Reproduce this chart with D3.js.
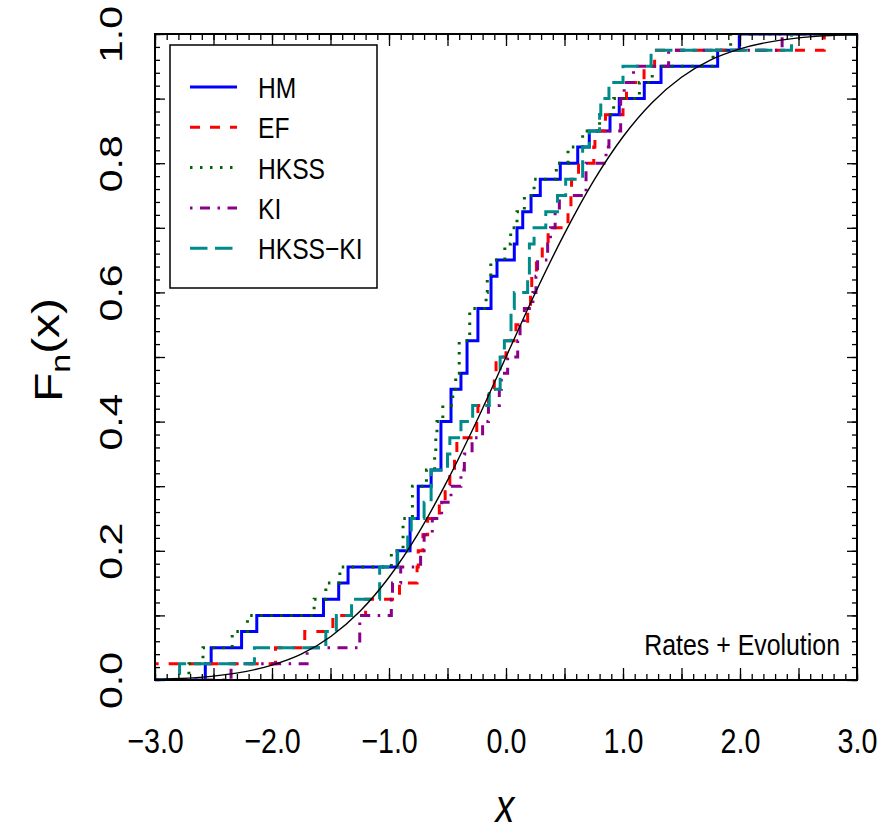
<!DOCTYPE html>
<html>
<head>
<meta charset="utf-8">
<script src="https://cdn.jsdelivr.net/npm/d3@7"></script>
<style>
  body { margin: 0; background: #fff; }
  svg { font-family: "Liberation Sans", Arial, Helvetica, sans-serif; }
</style>
</head>
<body>
<div id="chart"></div>
<script>
var hm = [-2.57, -2.52, -2.26, -2.13, -1.56, -1.43, -1.35, -0.93, -0.82, -0.82,
          -0.75, -0.75, -0.64, -0.556, -0.556, -0.556, -0.47, -0.47, -0.385, -0.333,
          -0.333, -0.24, -0.24, -0.128, -0.128, -0.077, 0.071, 0.094, 0.143, 0.214,
          0.293, 0.464, 0.613, 0.712, 0.889, 0.968, 1.182, 1.325, 1.809, 1.994]
var ef = [-3.1, -1.97, -1.72, -1.48, -1.20, -0.91, -0.76, -0.75, -0.71, -0.67,
          -0.57, -0.52, -0.48, -0.44, -0.42, -0.25, -0.24, -0.15, -0.10, -0.085,
          0.0, 0.085, 0.185, 0.21, 0.22, 0.26, 0.31, 0.36, 0.53, 0.555,
          0.56, 0.62, 0.75, 0.76, 0.85, 1.0, 1.03, 1.18, 1.27, 2.72]
var hkss = [-2.71, -2.59, -2.34, -2.21, -1.64, -1.54, -1.42, -0.98, -0.88, -0.88,
            -0.80, -0.80, -0.68, -0.61, -0.60, -0.59, -0.54, -0.455, -0.43, -0.40,
            -0.40, -0.31, -0.31, -0.17, -0.16, -0.13, -0.01, 0.04, 0.094, 0.157,
            0.24, 0.43, 0.53, 0.655, 0.80, 0.92, 1.14, 1.25, 1.77, 1.92]
var ki = [-2.35, -1.7, -1.25, -1.25, -0.98, -0.97, -0.9, -0.73, -0.70, -0.63,
          -0.55, -0.47, -0.385, -0.356, -0.29, -0.2, -0.15, -0.057, -0.04, 0.014,
          0.10, 0.12, 0.157, 0.23, 0.256, 0.27, 0.356, 0.38, 0.42, 0.456,
          0.684, 0.684, 0.855, 0.88, 0.98, 0.98, 1.01, 1.09, 1.39, 2.36]
var hkssKi = [-2.79, -2.15, -1.54, -1.45, -1.32, -1.08, -1.08, -0.926, -0.84, -0.81,
              -0.70, -0.64, -0.64, -0.50, -0.48, -0.385, -0.285, -0.143, -0.05, -0.05,
              -0.014, 0.043, 0.043, 0.071, 0.185, 0.2, 0.2, 0.24, 0.34, 0.44,
              0.51, 0.655, 0.655, 0.712, 0.80, 0.81, 0.88, 1.0, 1.24, 2.44]

// the thin black reference curve, read at a few x positions
var refX = [-3, -2.5, -2, -1.75, -1.5, -1.25, -1, -0.75, -0.5, -0.25, 0,
            0.25, 0.5, 0.75, 1, 1.25, 1.5, 1.75, 2, 2.5, 3]
var refF = [0.001, 0.006, 0.023, 0.040, 0.067, 0.106, 0.159, 0.227, 0.309, 0.401, 0.5,
            0.599, 0.691, 0.773, 0.841, 0.894, 0.933, 0.960, 0.977, 0.994, 0.999]

var seriesNames = ["HM", "EF", "HKSS", "KI", "HKSS\u2212KI"]
var xTicks = [-3, -2, -1, 0, 1, 2, 3]
var yTicks = [0, 0.2, 0.4, 0.6, 0.8, 1]

// look of each series (R-like lty patterns)
var colors = ["#0000ff", "#ff0000", "#006400", "#8b008b", "#008b8b"]
var dashes = [null, "10,10", "2.5,7.5", "2.5,7.5,10,7.5", "17.5,7.5"]
var samples = [hm, ef, hkss, ki, hkssKi]

var width = 879
var height = 836
var pLeft = 155, pRight = 857, pTop = 34, pBottom = 680

var svg = d3.select("#chart")
  .append("svg")
    .attr("width", width)
    .attr("height", height)

var x = d3.scaleLinear().domain([-3, 3]).range([pLeft, pRight])
var y = d3.scaleLinear().domain([0, 1]).range([pBottom, pTop])

svg.append("defs").append("clipPath")
    .attr("id", "plotclip")
  .append("rect")
    .attr("x", pLeft).attr("y", pTop)
    .attr("width", pRight - pLeft).attr("height", pBottom - pTop)

var plot = svg.append("g").attr("clip-path", "url(#plotclip)")

// empirical CDF as a step path
var step = d3.line()
    .x(function(d) { return x(d[0]); })
    .y(function(d) { return y(d[1]); })
    .curve(d3.curveStepAfter)

function ecdfPoints(vals) {
  var s = vals.slice().sort(d3.ascending)
  var n = s.length
  var pts = [[-3.6, 0]]
  s.forEach(function(v, i) { pts.push([v, (i + 1) / n]) })
  pts.push([3.6, 1])
  return pts
}

samples.forEach(function(vals, i) {
  plot.append("path")
      .attr("d", step(ecdfPoints(vals)))
      .style("fill", "none")
      .attr("stroke", colors[i])
      .attr("stroke-width", 3)
      .attr("stroke-dasharray", dashes[i])
})

var refLine = d3.line()
    .x(function(d) { return x(d); })
    .y(function(d, i) { return y(refF[i]); })
    .curve(d3.curveMonotoneX)

plot.append("path")
    .attr("d", refLine(refX))
    .style("fill", "none")
    .attr("stroke", "black")
    .attr("stroke-width", 1.4)

// inward ticks on all four sides: minor + major
function ticks(axisFn, scale, values, size, transform) {
  svg.append("g")
      .attr("transform", transform)
      .call(axisFn(scale).tickValues(values).tickSize(size).tickFormat(""))
      .call(function(g) { g.select(".domain").remove(); })
      .selectAll("line").attr("stroke", "black").attr("stroke-width", 1.3)
}
var xMinor = d3.range(-30, 31).map(function(d) { return d / 10; })
var xMajor = d3.range(-6, 7).map(function(d) { return d / 2; })
var yMinor = d3.range(0, 51).map(function(d) { return d / 50; })
var yMajor = d3.range(0, 11).map(function(d) { return d / 10; })

ticks(d3.axisBottom, x, xMinor, -6, "translate(0," + pBottom + ")")
ticks(d3.axisBottom, x, xMajor, -12, "translate(0," + pBottom + ")")
ticks(d3.axisTop, x, xMinor, -6, "translate(0," + pTop + ")")
ticks(d3.axisTop, x, xMajor, -12, "translate(0," + pTop + ")")
ticks(d3.axisLeft, y, yMinor, -5, "translate(" + pLeft + ",0)")
ticks(d3.axisLeft, y, yMajor, -10, "translate(" + pLeft + ",0)")
ticks(d3.axisRight, y, yMinor, -5, "translate(" + pRight + ",0)")
ticks(d3.axisRight, y, yMajor, -10, "translate(" + pRight + ",0)")

// frame
svg.append("rect")
    .attr("x", pLeft).attr("y", pTop)
    .attr("width", pRight - pLeft).attr("height", pBottom - pTop)
    .style("fill", "none")
    .attr("stroke", "black")
    .attr("stroke-width", 2)

// x tick labels
svg.append("g")
    .attr("transform", "translate(0," + pBottom + ")")
    .call(d3.axisBottom(x).tickValues(xTicks).tickSize(0).tickFormat(d3.format(".1f")))
    .call(function(g) { g.select(".domain").remove(); })
    .selectAll("text")
      .attr("y", 0).attr("dy", 0)
      .attr("font-size", 35)
      .attr("fill", "black")
      .attr("transform", "translate(0,73) scale(0.82,1)")

// y tick labels (rotated)
svg.append("g")
    .attr("transform", "translate(" + pLeft + ",0)")
    .call(d3.axisLeft(y).tickValues(yTicks).tickSize(0).tickFormat(d3.format(".1f")))
    .call(function(g) { g.select(".domain").remove(); })
    .selectAll("text")
      .attr("x", 0).attr("dy", 0)
      .attr("text-anchor", "middle")
      .attr("font-size", 41)
      .attr("fill", "black")
      .attr("transform", "translate(-33,0) rotate(-90) scale(1,0.75)")

// axis titles
svg.append("text")
    .attr("transform", "translate(505,822) scale(0.82,1)")
    .attr("text-anchor", "middle")
    .attr("font-size", 46)
    .attr("font-style", "italic")
    .text("x")

var ylab = svg.append("text")
    .attr("transform", "translate(62,350) rotate(-90) scale(1,0.8)")
    .attr("text-anchor", "middle")
    .attr("font-size", 48)
ylab.append("tspan").text("F")
ylab.append("tspan").attr("font-size", 34).attr("dy", "0.3em").text("n")
ylab.append("tspan").attr("dy", "-0.3em").text("(x)")

// corner note
svg.append("text")
    .attr("transform", "translate(840,655) scale(0.83,1)")
    .attr("text-anchor", "end")
    .attr("font-size", 30)
    .text("Rates + Evolution")

// legend
var legend = svg.append("g")
legend.append("rect")
    .attr("x", 170).attr("y", 45)
    .attr("width", 207).attr("height", 243)
    .style("fill", "white")
    .attr("stroke", "black")
    .attr("stroke-width", 1.5)

seriesNames.forEach(function(name, i) {
  var ly = 87 + i * 40.3
  legend.append("line")
      .attr("x1", 190).attr("x2", 237)
      .attr("y1", ly).attr("y2", ly)
      .attr("stroke", colors[i])
      .attr("stroke-width", 3)
      .attr("stroke-dasharray", dashes[i])
  legend.append("text")
      .attr("transform", "translate(258," + (ly + 11) + ") scale(0.82,1)")
      .attr("font-size", 30)
      .text(name)
})
</script>
</body>
</html>
